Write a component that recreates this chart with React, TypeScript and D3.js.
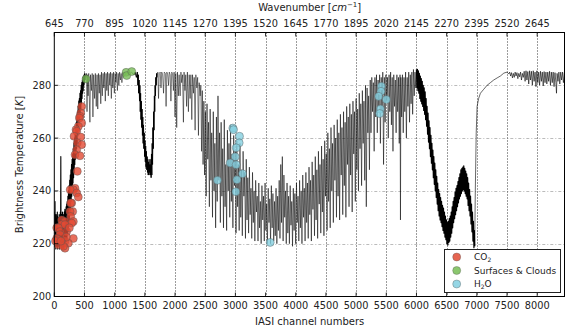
import React from "react";
import * as d3 from "d3";

// ---------- data ----------
const channelTicks = [0, 500, 1000, 1500, 2000, 2500, 3000, 3500, 4000, 4500, 5000, 5500, 6000, 6500, 7000, 7500, 8000];
const wavenumberTicks = [645, 770, 895, 1020, 1145, 1270, 1395, 1520, 1645, 1770, 1895, 2020, 2145, 2270, 2395, 2520, 2645];
const btTicks = [200, 220, 240, 260, 280];

// Spectrum: [channel, brightness temperature K]
const spectrumCO2: [number, number][] = [
  [0,222],[4,232],[8,219],[12,236],[16,220],[20,230],[25,218],[30,231],[35,219],[40,229],[45,220],[50,232],[55,218],[60,230],[65,219],[70,228],[75,220],[80,231],[85,218],[90,229],[95,219],[100,232],[104,220],[108,253],[112,219],[116,230],[120,218],[125,231],[130,219],[135,232],[140,218],[145,230],[150,219],[155,231],[160,218],[165,232],[170,220],[175,233],[180,219],[185,232],[190,221],[195,234],[200,221],[205,235],[210,222],[215,236],[220,224],[225,238],[230,225],[235,240],[240,227],[245,242],[250,229],[255,244],[260,231],[265,246],[270,233],[275,248],[280,236],[285,250],[290,238],[295,252],[300,240],[305,254],[310,243],[315,256],[320,245],[325,258],[330,247],[335,260],[340,250],[345,262],[350,252],[355,264],[360,254],[365,266],[370,256],[375,268],[380,258],[385,270],[390,261],[395,272],[400,263],[405,274],[410,265],[415,275],[420,267],[425,277],[430,269],[435,278],[440,271],[445,280],[450,273],[455,281],[460,275],[465,282],[470,277],[475,283],[480,278],[485,283.5],[490,280],[495,284],[500,281],[505,284.5],[510,282]
];
const spectrumWindow: [number, number][] = [
  [510,282],[518,284],[525,283],[535,284.5],[542,270],[550,284],[560,276],[570,284.5],[590,266],[600,284],[615,278],[628,284.5],[640,268],[652,284],[668,275],[680,284.5],[695,272],[708,284],[720,271],[732,284.5],[745,277],[758,284],[770,273],[782,285],[795,276],[808,284.5],[820,279],[832,285],[845,274],[858,284.5],[870,278],[882,285],[895,276],[908,284.5],[920,280],[932,285],[945,275],[958,284.5],[970,279],[982,285],[995,277],[1008,284.5],[1020,281],[1032,285],[1045,278],[1058,284.5],[1070,280],[1082,285],[1095,282],[1108,284.5],[1120,281],[1135,285],[1150,283],[1165,285],[1180,284],[1200,285],[1220,284.5],[1240,285],[1260,284.6],[1280,285],[1300,284.5]
];
const spectrumOzone: [number, number][] = [
  [1300,284.5],[1320,284],[1340,285],[1360,283],[1375,285],[1385,280],[1392,284],[1398,277],[1405,282],[1412,274],[1418,280],[1424,270],[1430,277],[1436,267],[1442,274],[1448,264],[1454,271],[1460,261],[1466,268],[1472,258],[1478,265],[1484,256],[1490,262],[1496,253],[1502,259],[1508,251],[1514,257],[1520,249],[1526,255],[1532,248],[1538,253],[1544,247],[1550,252],[1556,246],[1562,251],[1568,246],[1574,250],[1580,247],[1586,252],[1592,246],[1598,250],[1604,245],[1610,254],[1616,246],[1622,258],[1628,250],[1634,264],[1640,256],[1646,270],[1652,263],[1658,276],[1664,270],[1670,280],[1676,276],[1682,283],[1688,280],[1695,284.5],[1700,283]
];
const spectrumWindow2: [number, number][] = [
  [1700,283],[1715,285],[1727,275],[1738,284.5],[1755,285],[1768,279],[1780,285],[1795,284],[1810,277],[1822,285],[1840,284.5],[1852,272],[1864,285],[1880,284],[1893,280],[1905,285],[1920,284],[1932,274],[1945,285],[1960,284.5],[1973,278],[1985,285],[2000,268],[2012,284.5],[2028,264],[2040,285],[2055,276],[2068,284],[2085,276],[2098,285],[2110,281],[2125,284],[2139,266],[2150,285],[2165,278],[2178,284],[2192,272],[2205,285],[2222,270],[2235,284],[2250,275],[2263,284],[2278,267],[2290,284],[2305,277],[2318,283],[2333,263],[2345,284],[2362,279],[2375,283],[2388,261],[2400,281],[2416,276],[2428,280],[2440,255],[2452,278]
];
const spectrumH2O: [number, number][] = [
  [2452,278],[2465,250],[2478,274],[2490,246],[2503,270],[2516,238],[2530,273],[2543,252],[2556,266],[2569,234],[2582,271],[2595,244],[2608,262],[2621,230],[2634,270],[2647,240],[2660,258],[2673,226],[2686,268],[2699,236],[2712,276],[2725,244],[2738,262],[2751,228],[2764,266],[2777,238],[2790,256],[2803,226],[2816,267],[2829,234],[2842,250],[2855,225],[2868,263],[2881,240],[2894,258],[2907,230],[2920,265],[2933,236],[2946,254],[2959,226],[2972,261],[2985,242],[2998,255],[3011,224],[3024,259],[3037,234],[3050,250],[3063,225],[3076,258],[3089,230],[3102,248],[3115,223],[3128,255],[3141,238],[3154,247],[3167,222],[3180,252],[3193,229],[3206,245],[3219,224],[3232,249],[3245,231],[3258,241],[3271,222],[3284,247],[3297,228],[3310,240],[3323,221],[3336,244],[3349,232],[3362,238],[3375,221],[3388,243],[3401,226],[3414,236],[3427,220],[3440,242],[3453,229],[3466,238],[3479,221],[3492,243],[3505,225],[3518,235],[3531,220],[3544,241],[3557,228],[3570,237],[3583,220],[3596,242],[3609,226],[3622,239],[3635,221],[3648,236],[3661,223],[3674,241],[3687,220],[3700,238],[3713,225],[3726,244],[3739,222],[3752,250],[3765,228],[3778,253],[3791,221],[3804,246],[3817,230],[3830,240],[3843,220],[3856,243],[3869,224],[3882,238],[3895,220],[3908,242],[3921,227],[3934,236],[3947,219],[3960,241],[3973,225],[3986,239],[3999,220],[4012,243],[4025,228],[4038,238],[4051,221],[4064,244],[4077,226],[4090,240],[4103,220],[4116,246],[4129,230],[4142,241],[4155,221],[4168,247],[4181,228],[4194,243],[4207,222],[4220,249],[4233,231],[4246,244],[4259,221],[4272,251],[4285,233],[4298,246],[4311,223],[4324,253],[4337,229],[4350,248],[4363,222],[4376,255],[4389,235],[4402,250],[4415,224],[4428,257],[4441,232],[4454,252],[4467,223],[4480,259],[4493,238],[4506,254],[4519,225],[4532,262],[4545,236],[4558,256],[4571,226],[4584,264],[4597,240],[4610,258],[4623,228],[4636,265],[4649,244],[4662,260],[4675,230],[4688,267],[4701,238],[4714,262],[4727,229],[4740,269],[4753,246],[4766,264],[4779,231],[4792,270],[4805,242],[4818,266],[4831,230],[4844,272],[4857,250],[4870,268],[4883,234],[4896,273],[4909,246],[4922,269],[4935,232],[4948,274],[4961,254],[4974,270],[4987,236],[5000,275],[5013,248],[5026,271],[5039,240],[5052,277],[5065,256],[5078,273],[5091,242],[5104,278],[5117,258],[5130,274],[5143,244],[5156,280],[5169,234],[5182,279],[5195,262],[5208,276],[5221,248]
];
const spectrumWindow3: [number, number][] = [
  [5221,248],[5234,282],[5247,262],[5260,283],[5273,270],[5286,281],[5299,255],[5312,283],[5325,268],[5338,284],[5351,262],[5364,282],[5377,272],[5390,284],[5403,258],[5416,283],[5429,270],[5442,285],[5455,250],[5468,283],[5481,266],[5494,284],[5507,274],[5520,283],[5533,260],[5546,284],[5559,270],[5572,285],[5585,265],[5598,283],[5611,255],[5624,284],[5637,272],[5650,282],[5663,262],[5676,284],[5689,270],[5702,283],[5715,258],[5728,284],[5735,229],[5742,283],[5755,268],[5768,284],[5781,262],[5794,283],[5807,270],[5820,285],[5833,260],[5846,283],[5859,272],[5872,285],[5885,266],[5898,284],[5911,273],[5924,285],[5937,269],[5950,286],[5963,276],[5976,285],[5989,279],[6000,286]
];
const spectrumCO2sw: [number, number][] = [
  [6000,286],[6008,279],[6016,286],[6024,278],[6032,285.5],[6040,277],[6048,284.5],[6056,275],[6064,283.5],[6072,274],[6080,282.5],[6088,273],[6096,281.5],[6104,272],[6112,280],[6120,270.5],[6128,279],[6136,269],[6144,277.5],[6152,267],[6160,275],[6168,264.5],[6176,272],[6184,261.5],[6192,269.5],[6200,258.5],[6208,266.5],[6216,256],[6224,264],[6232,253],[6240,261],[6248,250.5],[6256,258],[6264,248],[6272,255.5],[6280,245],[6288,253],[6296,242.5],[6304,250.5],[6312,240],[6320,248],[6328,237.5],[6336,245.5],[6344,235],[6352,243],[6360,232.5],[6368,240.5],[6376,230.5],[6384,239],[6392,229],[6400,237.5],[6408,228],[6416,236],[6424,226.5],[6432,234.5],[6440,225],[6448,233.5],[6456,224],[6464,232],[6472,222.5],[6480,230.5],[6488,221.5],[6496,229],[6504,220],[6512,228],[6520,219.5],[6528,228.5],[6536,220.5],[6544,229.5],[6552,221],[6560,230.5],[6568,222.5],[6576,232],[6584,224],[6592,234],[6600,226],[6608,236],[6616,228],[6624,237.5],[6632,229.5],[6640,239.5],[6648,231],[6656,241],[6664,232.5],[6672,242],[6680,234],[6688,243.5],[6696,235.5],[6704,245],[6712,237],[6720,246.5],[6728,238],[6736,248],[6744,239],[6752,248.5],[6760,240],[6768,249],[6776,240.5],[6784,249.5],[6792,240],[6800,248.5],[6808,239],[6816,247.5],[6824,238],[6832,246.5],[6840,237],[6848,245],[6856,234.5],[6864,243],[6872,232.5],[6880,240.5],[6888,230.5],[6896,238],[6904,227.5],[6912,235],[6920,224.5],[6928,232],[6936,221],[6944,228.5],[6952,218.5],[6960,225],[6965,219]
];
const spectrumSW: [number, number][] = [
  [6965,219],[6975,240],[6990,262],[7005,272],[7030,275],[7060,277],[7115,278.5],[7170,280],[7225,281],[7280,282],[7337,282.8],[7390,283.5],[7447,284.6],[7500,285],[7530,284.3],[7545,285],[7560,283.5],[7575,284.8],[7590,282.8],[7605,284.5],[7620,283],[7635,285],[7650,283.5],[7665,284.8],[7680,282.5],[7695,284.5],[7710,283.2],[7725,285],[7740,282],[7755,284.5],[7770,283],[7785,285.3],[7800,281.5],[7815,285.5],[7830,282],[7845,285.2],[7860,280.5],[7875,285.5],[7890,282],[7905,285.3],[7920,280],[7935,285.5],[7950,281.5],[7965,285],[7980,279.5],[7995,285.5],[8010,281],[8025,285],[8040,280],[8055,285.3],[8070,281.5],[8085,285],[8100,279.8],[8115,285.2],[8130,281],[8145,285],[8160,280.5],[8175,285],[8190,281.5],[8205,285.3],[8220,280],[8235,285],[8250,281],[8265,285],[8280,279.5],[8295,284.8],[8310,281],[8320,277],[8330,284.5],[8345,281.5],[8360,285],[8375,280.5],[8390,285],[8405,282],[8420,285],[8435,281],[8450,284.8],[8461,283]
];

// Selected channels
const co2Channels = [454,438,426,415,454,398,360,371,327,438,381,454,371,343,426,381,343,315,263,371,398,288,272,305,260,272,123,177,315,288,123,177,40,66,205,95,95,315,40,66,177,232,66,177,150,200,250,20,110];
const co2BT = [272,269.5,268.3,267.6,265.7,264.4,263.2,262.6,260.7,260.4,258.2,257.5,255.6,253.7,253.3,247.4,241,240.4,240.4,239.2,237.7,235.4,235.4,232.2,232.2,230.3,229,228.4,228.4,227.8,227.2,227.2,226,226,224.6,224.6,223.4,222,222,221.5,220.9,220.2,219.6,218.3,219,222.5,226,221,221];
const surfChannels = [525, 1190, 1200, 1283];
const surfBT = [282.4, 284.9, 283.7, 285.2];
const h2oChannels = [2958,2969,3068,3063,3013,2997,2914,3013,3118,3025,2703,3008,3577,5419,5413,5374,5501,5402,5390];
const h2oBT = [263.8,263.2,260.7,258.2,256.3,252.9,250.6,249.9,246.5,244.2,244,239.7,220.5,279.6,277.7,275.8,274.6,271,269.3];

const legendNames = ["CO2", "Surfaces & Clouds", "H2O"];
const legendColors = ["#E24A33", "#77BD55", "#84CFE0"];

// ---------- layout ----------
const W = 565, H = 331;
const L = 54.3, R = 565, T = 32.5, B = 296.5;
const FONT = "DejaVu Sans, Verdana, sans-serif";

export default function App() {
  const x = d3.scaleLinear().domain([0, 8461]).range([L, R]);
  const xTop = d3.scaleLinear().domain([645, 645 + 8461 / 4]).range([L, R]);
  const y = d3.scaleLinear().domain([200, 300]).range([B, T]);

  const segments: { d: [number, number][]; w: number; c: string }[] = [
    { d: spectrumCO2, w: 1.1, c: "#000" },
    { d: spectrumWindow, w: 0.5, c: "#000" },
    { d: spectrumOzone, w: 1.0, c: "#000" },
    { d: spectrumWindow2, w: 0.5, c: "#000" },
    { d: spectrumH2O, w: 0.55, c: "#000" },
    { d: spectrumWindow3, w: 0.55, c: "#000" },
    { d: spectrumCO2sw, w: 1.2, c: "#000" },
    { d: spectrumSW, w: 0.6, c: "#000" },
  ];
  const line = d3.line<[number, number]>().x(d => x(d[0])).y(d => y(d[1]));

  const groups = [
    { ch: co2Channels, bt: co2BT, color: legendColors[0] },
    { ch: surfChannels, bt: surfBT, color: legendColors[1] },
    { ch: h2oChannels, bt: h2oBT, color: legendColors[2] },
  ];

  const lx = 444.5, ly = 249.5, lw = 116, lh = 43;
  const px = (v: number) => Math.round(v) + 0.5;

  return (
    <svg width={W} height={H} style={{ position: "absolute", left: 0, top: 0, background: "#fff" }} fontFamily={FONT}>
      <defs>
        <clipPath id="plot"><rect x={L} y={T} width={R - L} height={B - T} /></clipPath>
      </defs>
      {/* grid */}
      {btTicks.filter(t => t > 200).map(t => (
        <line key={"gy" + t} x1={L} x2={R} y1={px(y(t))} y2={px(y(t))}
          stroke="#aaa" strokeWidth={0.8} strokeDasharray="3,2,1,2" />
      ))}
      {channelTicks.filter(t => t > 0).map(t => (
        <line key={"gx" + t} x1={px(x(t))} x2={px(x(t))} y1={T} y2={B}
          stroke="#222" strokeWidth={0.9} strokeDasharray="1,2" />
      ))}
      {/* spectrum */}
      <g clipPath="url(#plot)">
        {segments.map((s, i) => (
          <path key={"sp" + i} d={line(s.d) || ""} fill="none" stroke={s.c} strokeWidth={s.w} strokeLinejoin="round" />
        ))}
      </g>
      {/* selected channels */}
      {groups.map((g, gi) => (
        <g key={"grp" + gi}>
          {g.ch.map((c, i) => (
            <circle key={i} cx={x(c)} cy={y(g.bt[i])} r={4} fill={g.color} fillOpacity={0.8}
              stroke="#555" strokeOpacity={0.7} strokeWidth={0.6} />
          ))}
        </g>
      ))}
      {/* frame */}
      <rect x={L} y={T} width={R - L - 0.5} height={B - T} fill="none" stroke="#000" strokeWidth={1} />
      {/* bottom ticks */}
      {channelTicks.map(t => (
        <g key={"bt" + t}>
          <line x1={x(t)} x2={x(t)} y1={B} y2={B - 4} stroke="#000" strokeWidth={0.8} />
          <text x={x(t)} y={B + 12} textAnchor="middle" fontSize={9.8} fill="#222">{t}</text>
        </g>
      ))}
      {/* top ticks */}
      {wavenumberTicks.map(t => (
        <g key={"tt" + t}>
          <line x1={xTop(t)} x2={xTop(t)} y1={T} y2={T + 4} stroke="#000" strokeWidth={0.8} />
          <text x={xTop(t)} y={T - 6} textAnchor="middle" fontSize={9.8} fill="#222">{t}</text>
        </g>
      ))}
      {/* left ticks */}
      {btTicks.map(t => (
        <g key={"lt" + t}>
          <line x1={L} x2={L + 4} y1={y(t)} y2={y(t)} stroke="#000" strokeWidth={0.8} />
          <text x={L - 3} y={y(t) + 3.5} textAnchor="end" fontSize={9.8} fill="#222">{t}</text>
        </g>
      ))}
      {/* axis labels */}
      <text x={(L + R) / 2} y={325} textAnchor="middle" fontSize={10} fill="#222">IASI channel numbers</text>
      <text x={(L + R) / 2} y={11} textAnchor="middle" fontSize={10} fill="#222">
        Wavenumber [<tspan fontStyle="italic">cm</tspan><tspan fontSize={7} dy={-4}>−1</tspan><tspan dy={4}>]</tspan>
      </text>
      <text transform={`translate(23,${(T + B) / 2}) rotate(-90)`} textAnchor="middle" fontSize={10} fill="#222">
        Brightness Temperature [<tspan fontStyle="italic">K</tspan>]
      </text>
      {/* legend */}
      <rect x={lx} y={ly} width={lw} height={lh} fill="#fff" stroke="#222" strokeWidth={1} />
      {legendNames.map((n, i) => {
        const cy = ly + 7.5 + i * 13.5;
        return (
          <g key={"lg" + i}>
            <circle cx={456.7} cy={cy} r={4} fill={legendColors[i]} fillOpacity={0.85} stroke="#555" strokeOpacity={0.6} strokeWidth={0.6} />
            <text x={474} y={cy + 3} fontSize={9} fill="#222">
              {n === "CO2" ? (<>CO<tspan fontSize={6} dy={2}>2</tspan></>) :
                n === "H2O" ? (<>H<tspan fontSize={6} dy={2}>2</tspan><tspan dy={-2}>O</tspan></>) : n}
            </text>
          </g>
        );
      })}
    </svg>
  );
}
